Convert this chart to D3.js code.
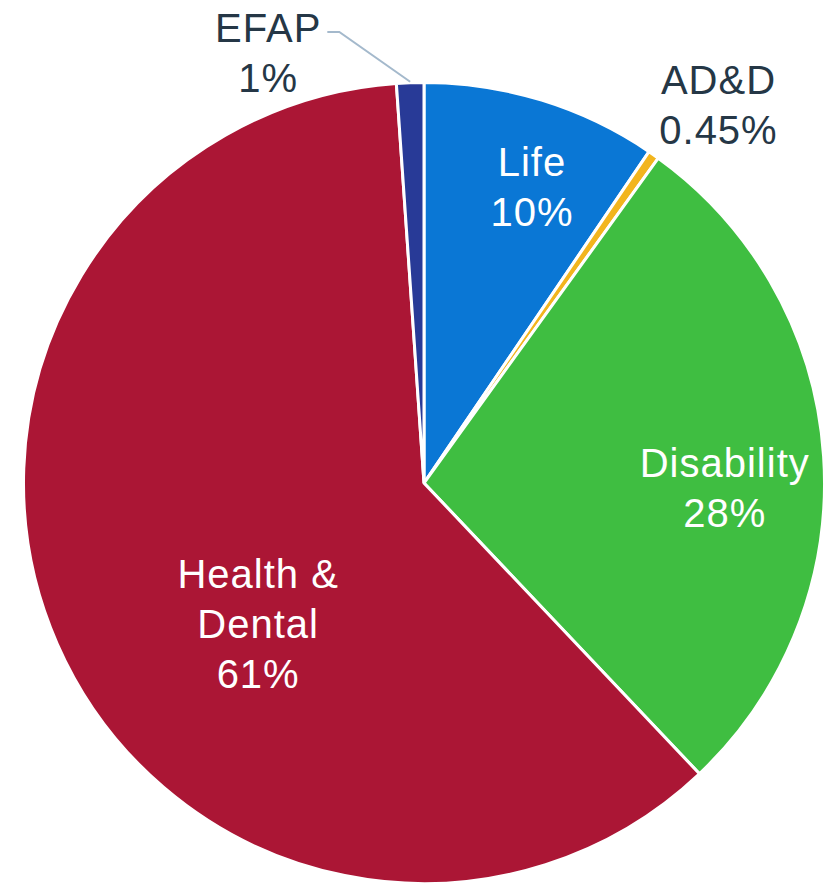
<!DOCTYPE html>
<html>
<head>
<meta charset="utf-8">
<script src="https://cdn.jsdelivr.net/npm/d3@7"></script>
<style>
  html, body { margin: 0; padding: 0; background: #ffffff; }
  svg { display: block; }
</style>
</head>
<body>
<svg id="chart" width="833" height="884"></svg>
<script>
// ---- data ----
const categories = ["Life", "AD&D", "Disability", "Health & Dental", "EFAP"];
const values = [9.5, 0.45, 28.0, 61.0, 1.1];
const labelNames = [["Life"], ["AD&D"], ["Disability"], ["Health &", "Dental"], ["EFAP"]];
const percentLabels = ["10%", "0.45%", "28%", "61%", "1%"];

// ---- styling / layout ----
const colors = ["#0a77d5", "#f2b51e", "#3fbe41", "#ab1635", "#283a97"];
const insideLabel = [true, false, true, true, false];
// label anchor: polar angle (deg, clockwise from top) and radius fraction
const labelAngle = [20.0, 37.9, 90.9, 229.7, 340.1];
const labelRadius = [0.788, 1.197, 0.751, 0.543, 1.143];

const width = 833, height = 884;
const cx = 424, cy = 483, R = 400.5;
const fontSize = 40, lineH = 50;

const svg = d3.select("#chart");
const g = svg.append("g").attr("transform", `translate(${cx},${cy})`);

const data = categories.map((c, i) => ({ cat: c, value: values[i], i }));
const pie = d3.pie().value(d => d.value).sort(null);
const arcs = pie(data);
const arc = d3.arc().innerRadius(0).outerRadius(R);

g.selectAll("path.slice")
  .data(arcs)
  .join("path")
  .attr("class", "slice")
  .attr("d", arc)
  .attr("fill", d => colors[d.data.i])
  .attr("stroke", "#ffffff")
  .attr("stroke-width", 3)
  .attr("stroke-linejoin", "miter");

function polar(angleDeg, r) {
  const a = angleDeg * Math.PI / 180;
  return [r * Math.sin(a), -r * Math.cos(a)];
}

arcs.forEach(d => {
  const i = d.data.i;
  const lines = labelNames[i].concat([percentLabels[i]]);
  const [lx, ly] = polar(labelAngle[i], labelRadius[i] * R);
  const n = lines.length;
  const t = g.append("text")
    .attr("text-anchor", "middle")
    .attr("font-family", "Liberation Sans, Arial, sans-serif")
    .attr("font-size", fontSize)
    .attr("letter-spacing", 1)
    .attr("fill", insideLabel[i] ? "#ffffff" : "#253746");
  lines.forEach((s, k) => {
    t.append("tspan")
      .attr("x", lx)
      .attr("y", ly + (k - (n - 1) / 2) * lineH + fontSize * 0.36)
      .text(s);
  });

  if (categories[i] === "EFAP") {
    // leader line from label to slice edge
    const bb = t.node().getBBox();
    const mid = (d.startAngle + d.endAngle) / 2;
    const ex = R * Math.sin(mid), ey = -R * Math.cos(mid) - 1;
    const sx = bb.x + bb.width + 6;
    const sy = ly - lineH / 2 + fontSize * 0.36 - 10;
    g.append("path")
      .attr("d", `M${sx},${sy}L${sx + 12},${sy}L${ex},${ey}`)
      .attr("fill", "none")
      .attr("stroke", "#a4b9cc")
      .attr("stroke-width", 2);
  }
});
</script>
</body>
</html>
